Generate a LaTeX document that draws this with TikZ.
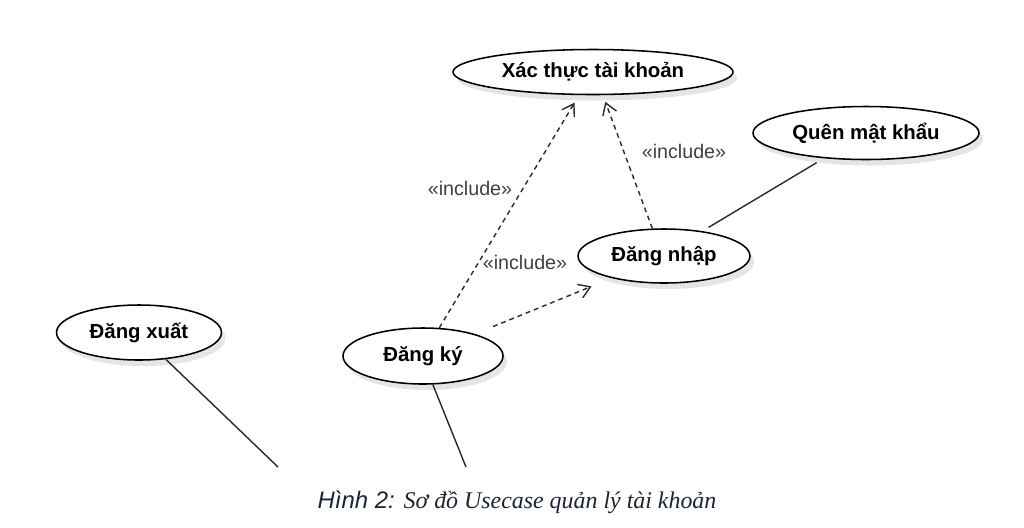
\documentclass[tikz,border=0pt]{standalone}
\usepackage{fontspec}
\setmainfont{Liberation Sans}
\newfontfamily\serifit{Liberation Serif}
\usetikzlibrary{shapes.geometric,arrows.meta,shadows}

\definecolor{linegray}{HTML}{2A2A2A}
\definecolor{labelgray}{HTML}{404040}
\definecolor{captionblue}{HTML}{1A2436}

\begin{document}
\begin{tikzpicture}[x=0.25mm,y=-0.25mm,
  usecase/.style={ellipse,draw=black,line width=1.1pt,fill=white,inner sep=0pt,
    font=\fontsize{14.5}{16}\selectfont\bfseries,
    drop shadow={shadow xshift=1mm,shadow yshift=-1.5mm,fill=black!10,opacity=1}},
  incl/.style={draw=linegray,line width=1pt,dash pattern=on 1.2mm off 1mm,
    -{Straight Barb[length=2.8mm,width=3.6mm]}},
  assoc/.style={draw=linegray,line width=1pt},
  inclabel/.style={text=labelgray,font=\fontsize{14}{16}\selectfont}]
  \useasboundingbox (0,0) rectangle (1024,527);

  % Use cases
  \node[usecase,minimum width=70mm,minimum height=11.25mm] (xacthuc) at (593,72) {Xác thực tài khoản};
  \node[usecase,minimum width=56.5mm,minimum height=13.25mm] (quen) at (866,133) {Quên mật khẩu};
  \node[usecase,minimum width=43mm,minimum height=13.5mm] (dangnhap) at (664,256) {Đăng nhập};
  \node[usecase,minimum width=40mm,minimum height=14mm] (dangky) at (423,356) {Đăng ký};
  \node[usecase,minimum width=41.25mm,minimum height=13.75mm] (dangxuat) at (139,332.5) {Đăng xuất};

  % Include relations
  \draw[incl,shorten >=2.2mm] (dangky.60) -- (xacthuc.239);
  \draw[incl,shorten <=4.9mm,shorten >=5.45mm] (dangky.23) -- (dangnhap.203);
  \draw[incl,shorten >=1.75mm] (dangnhap.113) -- (xacthuc.293);

  \node[inclabel] (lblA) at (470,188) {«include»};
  \node[inclabel] (lblB) at (525,262) {«include»};
  \node[inclabel] (lblC) at (684,151) {«include»};

  % Associations
  \coordinate (actorA) at (278,467);
  \coordinate (actorB) at (466,467);
  \draw[assoc,shorten <=2.1mm,shorten >=1.8mm] (quen.211) -- (dangnhap.33);
  \draw[assoc] (dangxuat.315) -- (actorA);
  \draw[assoc] (dangky.289) -- (actorB);

  % Caption
  \node[text=captionblue,font=\fontsize{17}{20}\selectfont\itshape] (caption) at (517,502)
    {Hình 2: {\serifit Sơ đồ Usecase quản lý tài khoản}};
\end{tikzpicture}
\end{document}
